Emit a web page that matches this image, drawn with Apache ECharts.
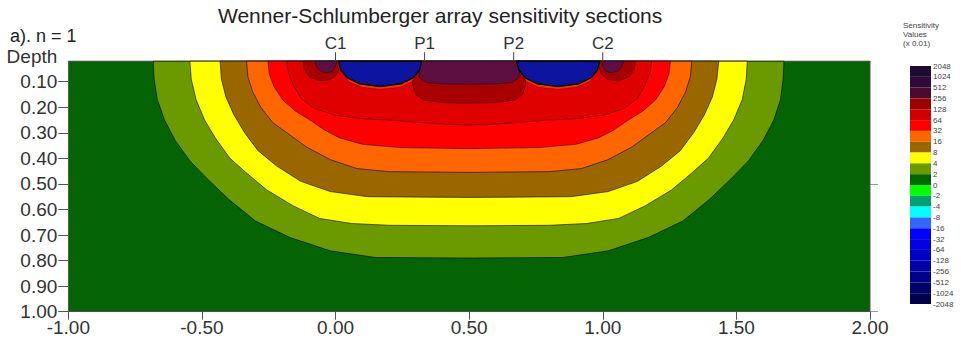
<!DOCTYPE html>
<html><head><meta charset="utf-8">
<script src="https://cdn.jsdelivr.net/npm/echarts@6/dist/echarts.min.js"></script>
<style>html,body{margin:0;padding:0;background:#fff}#c{width:961px;height:347px}</style>
</head><body><div id="c"></div>
<script>
// ---------- data ----------
const xTickValues = [-1, -0.5, 0, 0.5, 1, 1.5, 2];
const depthTickValues = [0, 0.1, 0.2, 0.3, 0.4, 0.5, 0.6, 0.7, 0.8, 0.9, 1.0];
const electrodeX = [0, 1/3, 2/3, 1];
const electrodeNames = ['C1', 'P1', 'P2', 'C2'];
const sensitivityLabels = ['2048','1024','512','256','128','64','32','16','8','4','2','0','-2','-4','-8','-16','-32','-64','-128','-256','-512','-1024','-2048'];
const sectionTop = 0.02;

// contour boundaries: [x, depth]
const sectionArea = [[-1,0.02],[2,0.02],[2,1],[-1,1]];
const contour2 = [[-0.682,0.02],[-0.679,0.09],[-0.667,0.17],[-0.64,0.25],[-0.60,0.33],[-0.545,0.41],[-0.48,0.48],[-0.40,0.56],[-0.30,0.645],[-0.17,0.71],[-0.02,0.762],[0.15,0.788],[0.5,0.79],[0.85,0.788],[1.02,0.762],[1.17,0.71],[1.30,0.645],[1.40,0.56],[1.48,0.48],[1.545,0.41],[1.60,0.33],[1.64,0.25],[1.665,0.17],[1.675,0.09],[1.678,0.02]];
const contour4 = [[-0.545,0.02],[-0.540,0.09],[-0.522,0.17],[-0.49,0.25],[-0.45,0.32],[-0.395,0.40],[-0.33,0.46],[-0.257,0.524],[-0.16,0.585],[-0.06,0.635],[0.06,0.655],[0.2,0.662],[0.5,0.664],[0.8,0.662],[0.94,0.655],[1.06,0.635],[1.16,0.585],[1.257,0.524],[1.33,0.46],[1.395,0.40],[1.45,0.32],[1.49,0.25],[1.522,0.17],[1.537,0.09],[1.541,0.02]];
const contour8 = [[-0.432,0.02],[-0.427,0.09],[-0.41,0.16],[-0.38,0.23],[-0.34,0.30],[-0.29,0.37],[-0.22,0.43],[-0.13,0.49],[-0.02,0.53],[0.12,0.55],[0.5,0.553],[0.88,0.55],[1.02,0.53],[1.13,0.49],[1.22,0.43],[1.29,0.37],[1.34,0.30],[1.38,0.23],[1.41,0.16],[1.427,0.09],[1.434,0.02]];
const contour16 = [[-0.333,0.02],[-0.328,0.08],[-0.31,0.14],[-0.28,0.2],[-0.235,0.26],[-0.182,0.30],[-0.11,0.355],[-0.02,0.405],[0.08,0.44],[0.2,0.452],[0.5,0.455],[0.8,0.452],[0.92,0.44],[1.02,0.405],[1.11,0.355],[1.182,0.30],[1.235,0.26],[1.28,0.2],[1.31,0.14],[1.328,0.08],[1.333,0.02]];
const contour32 = [[-0.253,0.02],[-0.248,0.07],[-0.23,0.12],[-0.197,0.172],[-0.15,0.215],[-0.096,0.25],[-0.04,0.29],[0.016,0.32],[0.1,0.345],[0.24,0.358],[0.5,0.362],[0.76,0.358],[0.9,0.345],[0.984,0.32],[1.04,0.29],[1.096,0.25],[1.15,0.215],[1.197,0.172],[1.23,0.12],[1.248,0.07],[1.253,0.02]];
const contour64 = [[-0.183,0.02],[-0.178,0.06],[-0.16,0.11],[-0.13,0.165],[-0.08,0.205],[0.0,0.232],[0.1,0.245],[0.2,0.25],[0.3,0.258],[0.4,0.266],[0.5,0.27],[0.6,0.266],[0.7,0.258],[0.8,0.25],[0.9,0.245],[1.0,0.232],[1.08,0.205],[1.13,0.165],[1.16,0.11],[1.178,0.06],[1.183,0.02]];
const contour128Left = [[-0.122,0.02],[-0.118,0.05],[-0.10,0.08],[-0.06,0.097],[-0.02,0.092],[0.005,0.072],[0.015,0.04],[0.015,0.02]];
const contour128Mid = [[0.30,0.02],[0.29,0.06],[0.288,0.11],[0.30,0.15],[0.33,0.172],[0.4,0.182],[0.5,0.184],[0.6,0.182],[0.67,0.172],[0.70,0.15],[0.712,0.11],[0.71,0.06],[0.70,0.02]];
const contour128Right = [[0.985,0.02],[0.985,0.04],[0.995,0.072],[1.02,0.092],[1.06,0.097],[1.10,0.08],[1.118,0.05],[1.122,0.02]];
const contour256Left = [[-0.077,0.02],[-0.072,0.04],[-0.055,0.06],[-0.03,0.066],[-0.01,0.058],[0.0,0.04],[0.005,0.02]];
const contour256Mid = [[0.318,0.02],[0.31,0.05],[0.315,0.085],[0.34,0.103],[0.4,0.109],[0.5,0.11],[0.6,0.109],[0.66,0.103],[0.685,0.085],[0.69,0.05],[0.682,0.02]];
const contour256Right = [[0.995,0.02],[1.0,0.04],[1.01,0.058],[1.03,0.066],[1.055,0.06],[1.072,0.04],[1.077,0.02]];
const rimLeft = [[0.012,0.02],[0.02,0.06],[0.05,0.1],[0.1,0.122],[0.167,0.13],[0.24,0.122],[0.285,0.1],[0.31,0.065],[0.322,0.02]];
const rimRight = [[0.678,0.02],[0.69,0.065],[0.715,0.1],[0.76,0.122],[0.833,0.13],[0.9,0.122],[0.95,0.1],[0.98,0.06],[0.988,0.02]];
const negativeLeft = [[0.012,0.02],[0.02,0.055],[0.045,0.085],[0.09,0.108],[0.167,0.119],[0.245,0.108],[0.29,0.085],[0.314,0.055],[0.322,0.02]];
const negativeRight = [[0.678,0.02],[0.686,0.055],[0.71,0.085],[0.755,0.108],[0.833,0.119],[0.91,0.108],[0.955,0.085],[0.98,0.055],[0.988,0.02]];

// ---------- styles ----------
const barColors = ['#1c0a30','#2e0a38','#4a0a30','#9e0000','#cc0000','#ff0000','#ff6600','#9a6600','#ffff00','#6a9a00','#006600','#00ff00','#00a070','#00ffff','#3366ff','#0000ff','#0000e0','#0000c4','#0000a6','#000088','#00006a','#00004a'];
const FONT = '"Liberation Sans", Arial, sans-serif';
const layers = [
  {polys:[sectionArea], fill:'#046404', stroke:'#555', lw:1},
  {polys:[contour2], fill:'#6a9a00', stroke:'rgba(0,0,0,0.75)', lw:0.8},
  {polys:[contour4], fill:'#ffff00', stroke:'rgba(0,0,0,0.75)', lw:0.8},
  {polys:[contour8], fill:'#9a6600', stroke:'rgba(0,0,0,0.75)', lw:0.8},
  {polys:[contour16], fill:'#ff6600', stroke:'rgba(0,0,0,0.75)', lw:0.8},
  {polys:[contour32], fill:'#ff0000', stroke:'rgba(0,0,0,0.6)', lw:0.8},
  {polys:[contour64], fill:'#e00000', stroke:'rgba(0,0,0,0.5)', lw:0.8},
  {polys:[contour128Left, contour128Mid, contour128Right], fill:'#a80000', stroke:'rgba(0,0,0,0.5)', lw:0.8},
  {polys:[contour256Left, contour256Mid, contour256Right], fill:'#5c0f40', stroke:'rgba(0,0,0,0.5)', lw:0.8},
  {polys:[rimLeft, rimRight], fill:'#ff3000', stroke:'rgba(0,0,0,0.4)', lw:0.6},
  {polys:[negativeLeft, negativeRight], fill:'#0c14a0', stroke:'#000', lw:1.5}
];

const chart = echarts.init(document.getElementById('c'), null, {renderer:'svg'});
chart.setOption({
  animation: false,
  backgroundColor: '#fff',
  title: [
    {text:'Wenner-Schlumberger array sensitivity sections', left:218, top:5, padding:0,
     textStyle:{fontFamily:FONT, fontSize:21, lineHeight:21, fontWeight:'normal', color:'#222'}},
    {text:'a). n = 1', left:10, top:27, padding:0,
     textStyle:{fontFamily:FONT, fontSize:18, lineHeight:18, fontWeight:'normal', color:'#222'}},
    {text:'Sensitivity\nValues\n(x 0.01)', left:903, top:21, padding:0,
     textStyle:{fontFamily:FONT, fontSize:8, lineHeight:9, fontWeight:'normal', color:'#444'}}
  ],
  grid: [
    {left:68.3, right:91, top:56.1, bottom:35.3},
    {left:910, width:21, top:66, height:238}
  ],
  xAxis: [
    {gridIndex:0, type:'value', position:'bottom', min:-1, max:2, interval:0.5,
     axisLine:{onZero:false, lineStyle:{color:'#555'}}, axisTick:{length:8, lineStyle:{color:'#555'}},
     splitLine:{show:false},
     axisLabel:{margin:6, fontFamily:FONT, fontSize:19, color:'#333', formatter:v=>v.toFixed(2), showMinLabel:true, showMaxLabel:true}},
    {gridIndex:0, type:'value', position:'top', offset:-5, min:-1, max:2,
     axisLine:{show:true, onZero:false, lineStyle:{color:'#444'}},
     axisTick:{show:false},
     splitLine:{show:false},
     axisLabel:{margin:9, fontFamily:FONT, fontSize:17, color:'#333', customValues:electrodeX,
       formatter:v=>{const i=electrodeX.findIndex(e=>Math.abs(e-v)<1e-6); return i>=0?electrodeNames[i]:'';}}},
    {gridIndex:1, type:'value', min:0, max:1, show:false}
  ],
  yAxis: [
    {gridIndex:0, type:'value', inverse:true, min:0, max:1, position:'left',
     axisLine:{show:false, onZero:false}, splitLine:{show:false},
     axisTick:{show:true, length:10, customValues:depthTickValues.slice(1), lineStyle:{color:'#555'}},
     axisLabel:{margin:11, fontFamily:FONT, fontSize:19, color:'#333', customValues:depthTickValues,
       formatter:v=>v<1e-6?'Depth':v.toFixed(2)}},
    {gridIndex:0, type:'value', inverse:true, min:0, max:1, position:'right',
     axisLine:{show:false, onZero:false}, splitLine:{show:false}, axisLabel:{show:false},
     axisTick:{show:true, length:8, customValues:[0.5, 1.0], lineStyle:{color:'#999'}}},
    {gridIndex:1, type:'value', inverse:true, min:0, max:22, interval:1, position:'right',
     axisLine:{show:false, onZero:false}, axisTick:{show:false}, splitLine:{show:false},
     axisLabel:{margin:2, fontFamily:FONT, fontSize:8, color:'#444',
       formatter:v=>sensitivityLabels[Math.round(v)]}}
  ],
  series: [
    {type:'custom', xAxisIndex:0, yAxisIndex:0, silent:true, clip:true,
     data: layers.map((l,i)=>[i]),
     renderItem:(params, api)=>{
       const L = layers[params.dataIndex];
       return {type:'group', children: L.polys.map(pts=>({
         type:'polygon', shape:{points: pts.map(p=>api.coord(p))},
         style:{fill:L.fill, stroke:L.stroke, lineWidth:L.lw}}))};
     }},
    {type:'custom', xAxisIndex:0, yAxisIndex:0, silent:true, clip:false,
     data: electrodeX.map(x=>[x, sectionTop]),
     renderItem:(params, api)=>{
       const p = api.coord([api.value(0), api.value(1)]);
       return {type:'line', shape:{x1:p[0], y1:p[1]-9, x2:p[0], y2:p[1]},
         style:{stroke:'#444', lineWidth:1}};
     }},
    {type:'custom', xAxisIndex:2, yAxisIndex:2, silent:true,
     data: barColors.map((c,i)=>[0,i]),
     renderItem:(params, api)=>{
       const i = params.dataIndex;
       const a = api.coord([0, i]), b = api.coord([1, i+1]);
       return {type:'rect', shape:{x:a[0], y:Math.min(a[1],b[1]), width:b[0]-a[0], height:Math.abs(b[1]-a[1])},
         style:{fill:barColors[i]}};
     }}
  ]
});
</script></body></html>
